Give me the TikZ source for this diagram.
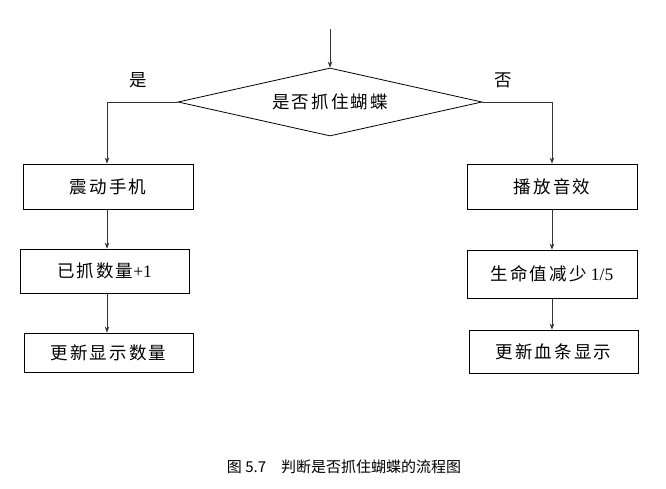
\documentclass[tikz,border=0pt]{standalone}
\usepackage{fontspec}
\setmainfont{Liberation Serif}
\newfontfamily\cjk[LetterSpace=12]{Noto Sans CJK SC}
\newfontfamily\cjkcap{Noto Sans CJK SC}
\usetikzlibrary{arrows.meta,shapes.geometric}
\definecolor{linegray}{HTML}{333333}
\begin{document}
\begin{tikzpicture}[x=1pt,y=-1pt,
  boxnode/.style={draw=black, line width=0.8pt, inner sep=0pt, font=\fontsize{17.5}{20}\selectfont},
  decision/.style={draw=black, line width=0.8pt, diamond, aspect=4.47, inner sep=0pt, minimum width=304pt, minimum height=68pt, font=\fontsize{17.5}{20}\selectfont},
  lbl/.style={inner sep=0pt, font=\fontsize{17.5}{20}\selectfont},
  arr/.style={draw=linegray, line width=0.8pt, -{Stealth[length=6pt,width=4.5pt]}}]
\useasboundingbox (0,0) rectangle (666,488);
\coordinate (s) at (330,29);
\coordinate (colL) at (107,0);
\coordinate (colR) at (552,0);
\node[decision] (d) at (330,102) {\cjk 是否抓住蝴蝶};
\node[boxnode, minimum width=170pt, minimum height=45pt] (b1) at (108,186.5) {\cjk 震动手机};
\node[boxnode, minimum width=169pt, minimum height=44pt] (b2) at (104.5,271) {{\cjk 已抓数量}+1};
\node[boxnode, minimum width=169pt, minimum height=39pt] (b3) at (108.5,352.5) {\cjk 更新显示数量};
\node[boxnode, minimum width=170pt, minimum height=45pt] (b4) at (552,186.5) {\cjk 播放音效};
\node[boxnode, minimum width=170pt, minimum height=48pt] (b5) at (552,274) {{\cjk 生命值减少} 1/5};
\node[boxnode, minimum width=169pt, minimum height=43pt] (b6) at (553.5,351.5) {\cjk 更新血条显示};
\node[lbl] (yes) at (138,80) {\cjk 是};
\node[lbl] (no) at (503,80) {\cjk 否};
\node[inner sep=0pt] (cap) at (344,467) {\cjkcap\fontsize{15}{18}\selectfont 图 5.7\quad 判断是否抓住蝴蝶的流程图};
\draw[arr] (s) -- (d.north);
\draw[arr] (d.west) -| (colL |- b1.north);
\draw[arr] (colL |- b1.south) -- (colL |- b2.north);
\draw[arr] (colL |- b2.south) -- (colL |- b3.north);
\draw[arr] (d.east) -| (colR |- b4.north);
\draw[arr] (colR |- b4.south) -- (colR |- b5.north);
\draw[arr] (colR |- b5.south) -- (colR |- b6.north);
\end{tikzpicture}
\end{document}
